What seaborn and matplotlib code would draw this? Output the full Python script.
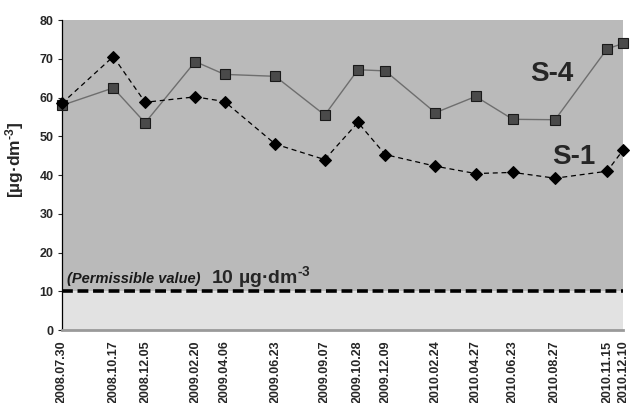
import matplotlib
matplotlib.use("Agg")
import matplotlib.pyplot as plt
import matplotlib.dates as mdates
import seaborn as sns
import pandas as pd

dates = ["2008.07.30", "2008.10.17", "2008.12.05", "2009.02.20", "2009.04.06",
         "2009.06.23", "2009.09.07", "2009.10.28", "2009.12.09", "2010.02.24",
         "2010.04.27", "2010.06.23", "2010.08.27", "2010.11.15", "2010.12.10"]
s4_values = [58.0, 62.5, 53.5, 69.3, 66.0, 65.5, 55.5, 67.2, 66.9, 56.1,
             60.3, 54.4, 54.3, 72.6, 74.0]
s1_values = [58.5, 70.6, 58.8, 60.2, 59.0, 48.0, 44.0, 53.6, 45.3, 42.3,
             40.4, 40.7, 39.2, 41.0, 46.6]
permissible = 10
yticks = [0, 10, 20, 30, 40, 50, 60, 70, 80]

sns.set_style("white")
plt.rcParams["font.family"] = ["Liberation Sans", "DejaVu Sans"]
plt.rcParams["mathtext.fontset"] = "custom"
plt.rcParams["mathtext.rm"] = "Liberation Sans:bold"
plt.rcParams["mathtext.bf"] = "Liberation Sans:bold"
plt.rcParams["mathtext.default"] = "rm"

dt = pd.to_datetime(dates, format="%Y.%m.%d")
df = pd.DataFrame({"date": dt, "S-4": s4_values, "S-1": s1_values})

fig = plt.figure(figsize=(6.31, 4.03), dpi=100)
ax = fig.add_axes([0.098, 0.181, 0.890, 0.769])

ax.axhspan(permissible, 80, color="#bababa", zorder=0, lw=0)
ax.axhspan(0, permissible, color="#e2e2e2", zorder=0, lw=0)

sns.lineplot(data=df, x="date", y="S-4", ax=ax, color="#6e6e6e", lw=1.0,
             marker="s", markersize=6.5, markerfacecolor="#4a4a4a",
             markeredgecolor="#1a1a1a", markeredgewidth=0.8, clip_on=False, zorder=3)
sns.lineplot(data=df, x="date", y="S-1", ax=ax, color="black", lw=0.9,
             dashes=(4, 3), marker="D", markersize=6.5, markerfacecolor="black",
             markeredgecolor="black", clip_on=False, zorder=4)

ax.axhline(permissible, color="black", lw=2.6, dashes=(3, 1.3), zorder=2)

ax.set_xlim(dt[0], dt[-1])
ax.set_ylim(0, 80)
ax.set_yticks(yticks)
ax.set_xticks(dt)
ax.xaxis.set_major_formatter(mdates.DateFormatter("%Y.%m.%d"))
for lab in ax.get_xticklabels():
    lab.set_rotation(90)
    lab.set_fontweight("bold")
    lab.set_fontsize(9)
for lab in ax.get_yticklabels():
    lab.set_fontweight("bold")
    lab.set_fontsize(9)
ax.tick_params(axis="y", left=True, length=3, width=0.8, pad=3)
ax.tick_params(axis="x", bottom=False, pad=4)
ax.set_xlabel("")
ax.set_ylabel("[µg·dm$^{\\text{-3}}$]", fontsize=12.5, fontweight="bold")
ax.yaxis.set_label_coords(-0.064, 0.55)

for side in ["top", "right"]:
    ax.spines[side].set_visible(False)
ax.spines["left"].set_color("black")
ax.spines["left"].set_linewidth(0.9)
ax.spines["bottom"].set_color("#9a9a9a")
ax.spines["bottom"].set_linewidth(2)

ax.text(0.873, 66, "S-4", transform=ax.get_yaxis_transform(), fontsize=20,
        fontweight="bold", ha="center", va="center", zorder=5)
ax.text(0.912, 44.6, "S-1", transform=ax.get_yaxis_transform(), fontsize=20,
        fontweight="bold", ha="center", va="center", zorder=5)
ax.text(0.010, 12.1, "(Permissible value)", transform=ax.get_yaxis_transform(),
        fontsize=10.5, fontweight="bold", fontstyle="italic", va="baseline",
        color="#1a1a1a", zorder=5)
ax.text(0.266, 12.1, "10 µg·dm$^{\\text{-3}}$", transform=ax.get_yaxis_transform(),
        fontsize=14, fontweight="bold", va="baseline", zorder=5)

fig.savefig("out.png", dpi=100)
